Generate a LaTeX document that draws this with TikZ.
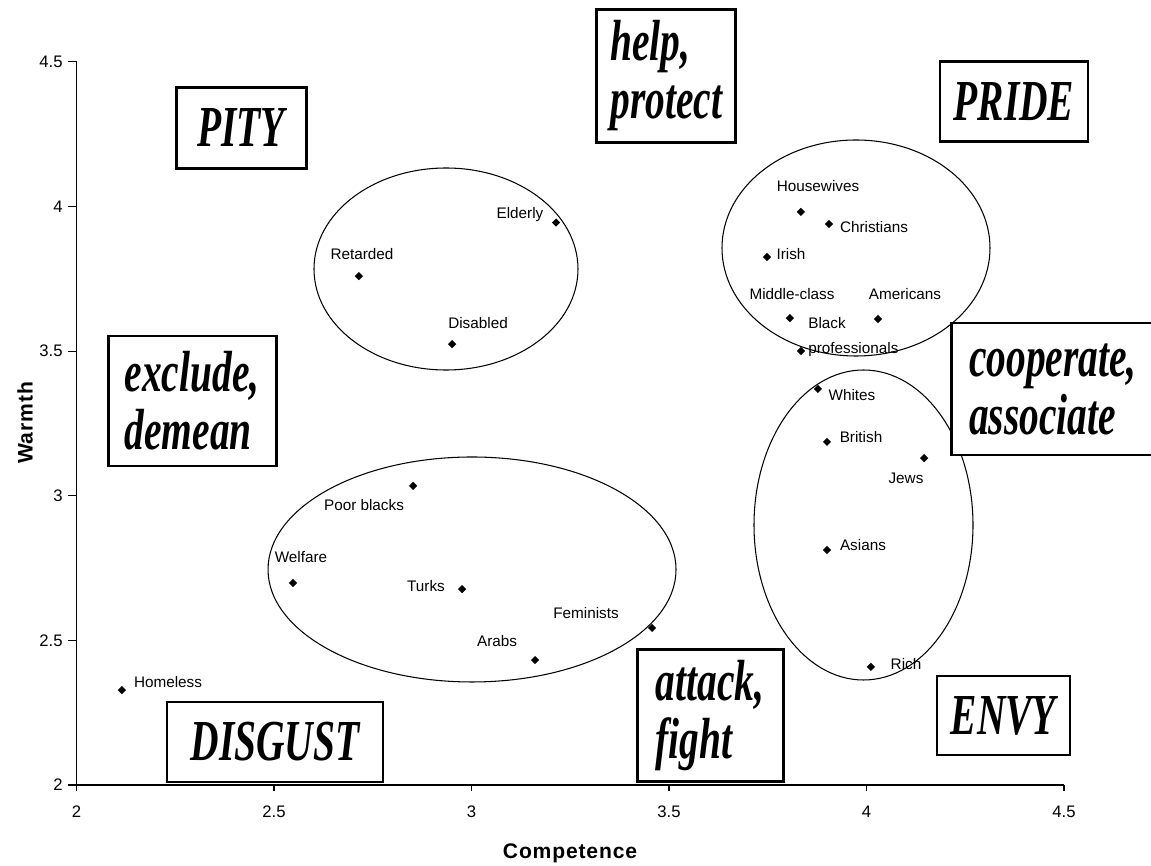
\documentclass[tikz,border=0pt]{standalone}
\usepackage{fontspec}
\setmainfont{Liberation Sans}
\newfontfamily\emofont[FakeStretch=0.68]{Liberation Serif}
\newfontfamily\axfont[LetterSpace=4]{Liberation Sans}
\usetikzlibrary{shapes.geometric}

\begin{document}
\begin{tikzpicture}[x=7.9cm, y=5.786cm,
    pt/.style={diamond, fill=black, inner sep=0pt, minimum size=0.17cm},
    lbl/.style={font=\fontsize{8.7}{10}\selectfont, inner sep=0pt},
    ticklbl/.style={font=\fontsize{9.5}{11}\selectfont, inner sep=0pt},
    axtitle/.style={font=\fontsize{12}{14}\selectfont\axfont\bfseries, inner sep=0pt},
    cluster/.style={line width=0.6pt},
    axis/.style={line width=0.6pt},
    emotion/.style={draw, fill=white, line width=1.7pt, align=left, inner sep=0pt,
      font=\fontsize{33}{33}\selectfont\emofont\bfseries\itshape}
  ]
  \useasboundingbox (1.8063,1.72) rectangle (4.7203,4.7135);

  \coordinate (o) at (2,2);
  \coordinate (xend) at (4.5,2);
  \coordinate (yend) at (2,4.5);
  \draw[axis] (yend) -- (o) -- (xend);
  \foreach \t in {2,2.5,3,3.5,4,4.5} {
    \draw[axis] (\t,2) -- ++(0,-0.12cm);
    \node[ticklbl, anchor=north] (xt\t) at (\t,1.929) {\t};
    \draw[axis] (2,\t) -- ++(-0.18cm,0);
    \node[ticklbl, anchor=east] (yt\t) at (1.9658,\t) {\t};
  }
  \node[axtitle] (xtitle) at (3.2494,1.765) {Competence};
  \node[axtitle, rotate=90] (ytitle) at (1.8696,3.2513) {Warmth};

  \draw[cluster] (2.9354,3.7836) ellipse [x radius=2.64cm, y radius=2.02cm];
  \draw[cluster] (3.0013,2.7449) ellipse [x radius=4.08cm, y radius=2.25cm];
  \draw[cluster] (3.9734,3.8562) ellipse [x radius=2.68cm, y radius=2.16cm];
  \draw[cluster] (3.9924,2.8987) ellipse [x radius=2.19cm, y radius=3.1cm];

  \node[emotion, minimum width=2.6cm, minimum height=1.62cm] (pity) at (2.4165,4.271) {PITY};
  \node[emotion, minimum width=2.78cm, minimum height=2.66cm] (help) at (3.4932,4.4508) {help,\\protect};
  \node[emotion, minimum width=2.96cm, minimum height=1.6cm] (pride) at (4.3734,4.3619) {PRIDE};
  \node[emotion, minimum width=3.36cm, minimum height=2.6cm] (exclude) at (2.2924,3.3273) {exclude,\\demean};
  \node[emotion, minimum width=4.08cm, minimum height=2.64cm] (coop) at (4.4722,3.3688) {cooperate,\\associate};
  \node[emotion, minimum width=4.32cm, minimum height=1.6cm] (disgust) at (2.5025,2.1486) {DISGUST};
  \node[emotion, minimum width=2.92cm, minimum height=2.64cm] (attack) at (3.6038,2.2385) {attack,\\fight};
  \node[emotion, minimum width=2.66cm, minimum height=1.58cm] (envy) at (4.3468,2.2402) {ENVY};

  \node[pt] (homeless) at (2.115,2.328) {};
  \node[pt] (retarded) at (2.715,3.759) {};
  \node[pt] (elderly) at (3.214,3.944) {};
  \node[pt] (disabled) at (2.951,3.524) {};
  \node[pt] (poorblacks) at (2.852,3.034) {};
  \node[pt] (welfare) at (2.548,2.698) {};
  \node[pt] (turks) at (2.976,2.677) {};
  \node[pt] (arabs) at (3.161,2.432) {};
  \node[pt] (feminists) at (3.457,2.543) {};
  \node[pt] (housewives) at (3.834,3.981) {};
  \node[pt] (christians) at (3.905,3.939) {};
  \node[pt] (irish) at (3.748,3.825) {};
  \node[pt] (middle) at (3.806,3.614) {};
  \node[pt] (americans) at (4.029,3.611) {};
  \node[pt] (blackpro) at (3.834,3.500) {};
  \node[pt] (whites) at (3.877,3.369) {};
  \node[pt] (british) at (3.900,3.186) {};
  \node[pt] (jews) at (4.146,3.130) {};
  \node[pt] (asians) at (3.900,2.812) {};
  \node[pt] (rich) at (4.011,2.408) {};

  \node[lbl] (homelessL) at (2.2316,2.356) {Homeless};
  \node[lbl] (retardedL) at (2.7228,3.8355) {Retarded};
  \node[lbl] (elderlyL) at (3.1228,3.9703) {Elderly};
  \node[lbl] (disabledL) at (3.0165,3.597) {Disabled};
  \node[lbl] (poorblacksL) at (2.7278,2.9679) {Poor blacks};
  \node[lbl] (welfareL) at (2.5684,2.7881) {Welfare};
  \node[lbl] (turksL) at (2.8848,2.6879) {Turks};
  \node[lbl] (arabsL) at (3.0646,2.4978) {Arabs};
  \node[lbl] (feministsL) at (3.2899,2.5945) {Feminists};
  \node[lbl] (housewivesL) at (3.8772,4.0705) {Housewives};
  \node[lbl] (christiansL) at (4.0190,3.9288) {Christians};
  \node[lbl] (irishL) at (3.8089,3.8355) {Irish};
  \node[lbl] (middleL) at (3.8114,3.6972) {Middle-class};
  \node[lbl] (americansL) at (4.0975,3.6972) {Americans};
  \node[lbl, anchor=north west, align=left, font=\fontsize{8.7}{14.5}\selectfont] (blackproL) at (3.8519,3.6177) {Black\\professionals};
  \node[lbl] (whitesL) at (3.9633,3.3481) {Whites};
  \node[lbl] (britishL) at (3.9861,3.2029) {British};
  \node[lbl] (jewsL) at (4.1,3.0612) {Jews};
  \node[lbl] (asiansL) at (3.9911,2.8296) {Asians};
  \node[lbl] (richL) at (4.1,2.4183) {Rich};
\end{tikzpicture}
\end{document}
